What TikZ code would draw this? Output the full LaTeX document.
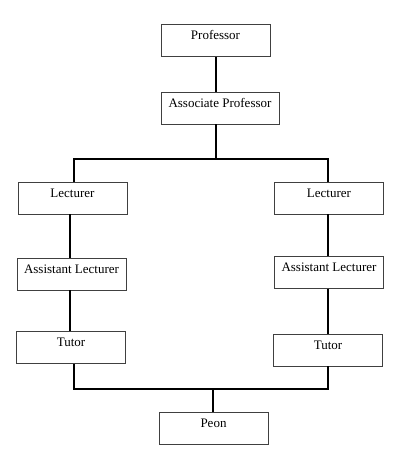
\documentclass[tikz,border=0pt]{standalone}
\usepackage{fontspec}
\setmainfont{Liberation Serif}

\begin{document}
\begin{tikzpicture}[x=1pt,y=-1pt,
    post/.style={draw=black!75,line width=0.8pt,fill=white,minimum width=109pt,
        inner ysep=4.5pt,text height=10.5pt,text depth=12.5pt,font=\fontsize{13}{15}\selectfont},
    link/.style={line width=2.4pt}]
        \useasboundingbox (0,0) rectangle (410,456);
        \node[post] (prof) at (215.5,40.5) {Professor};
        \node[post,minimum width=118pt] (assoc) at (220,108) {Associate Professor};
        \node[post] (lecL) at (72.5,198) {Lecturer};
        \node[post] (lecR) at (329,198) {Lecturer};
        \node[post] (asstL) at (71.5,274) {Assistant Lecturer};
        \node[post] (asstR) at (329,272.5) {Assistant Lecturer};
        \node[post] (tutL) at (71,347.5) {Tutor};
        \node[post] (tutR) at (328,350) {Tutor};
        \node[post] (peon) at (213.5,428) {Peon};
        \coordinate (jm) at (216,159);
        \coordinate (jl) at (74,159);
        \coordinate (jr) at (328,159);
        \coordinate (cl) at (70,0);
        \coordinate (cr) at (328,0);
        \coordinate (bm) at (213,389);
        \coordinate (bl) at (74,389);
        \coordinate (br) at (328,389);
        \draw[link] (prof.south -| jm) -- (assoc.north -| jm);
        \draw[link] (assoc.south -| jm) -- (jm);
        \draw[link] (lecL.north -| jl) -- (jl) -- (jr) -- (lecR.north -| jr);
        \draw[link] (lecL.south -| cl) -- (asstL.north -| cl);
        \draw[link] (lecR.south -| cr) -- (asstR.north -| cr);
        \draw[link] (asstL.south -| cl) -- (tutL.north -| cl);
        \draw[link] (asstR.south -| cr) -- (tutR.north -| cr);
        \draw[link] (tutL.south -| bl) -- (bl) -- (br) -- (tutR.south -| br);
        \draw[link] (bm) -- (peon.north -| bm);
    \end{tikzpicture}
\end{document}
